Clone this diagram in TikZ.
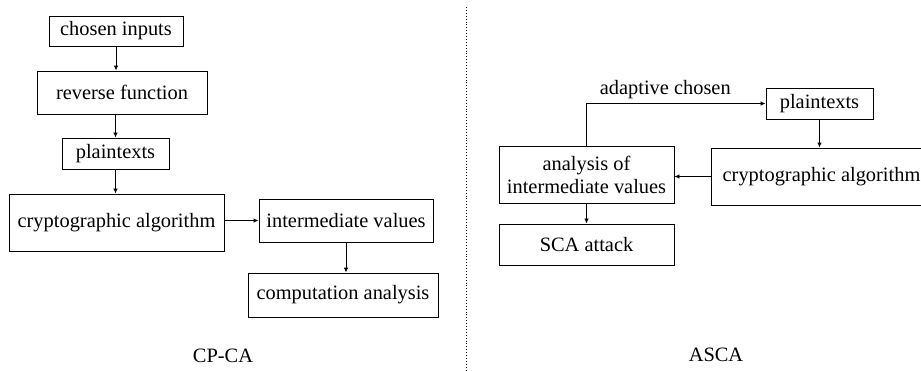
\documentclass[tikz,border=0pt]{standalone}
\usepackage{fontspec}
\setmainfont{Liberation Serif}
\usetikzlibrary{arrows.meta}
\begin{document}
\begin{tikzpicture}[x=1pt,y=-1pt,
  box/.style={draw, line width=0.9pt, inner sep=0pt, align=center,
    font=\fontsize{20.4}{23}\selectfont},
  lbl/.style={inner sep=0pt, font=\fontsize{20.4}{23}\selectfont},
  arr/.style={draw, line width=0.9pt, -{Latex[length=5pt,width=4.5pt]}}]
\useasboundingbox (0,0) rectangle (921,370);
% left
\node[box, minimum width=134pt, minimum height=30pt] (ci) at (116,31) {chosen inputs};
\node[box, minimum width=170pt, minimum height=43pt] (rf) at (122,92.5) {reverse function};
\node[box, minimum width=107pt, minimum height=31pt] (pt) at (115.5,153.5) {plaintexts};
\node[box, minimum width=215pt, minimum height=57pt] (ca) at (116.5,222.5) {cryptographic algorithm};
\node[box, minimum width=174pt, minimum height=43pt] (iv) at (346,220.5) {intermediate values};
\node[box, minimum width=190pt, minimum height=44pt] (cm) at (343,295) {computation analysis};
\node[lbl] (l1) at (223,356) {CP-CA};
\draw[arr] (ci.south) -- (ci.south |- rf.north);
\draw[arr] (pt.north |- rf.south) -- (pt.north);
\draw[arr] (pt.south) -- (pt.south |- ca.north);
\draw[arr] (ca.east |- iv.west) -- (iv.west);
\draw[arr] (iv.south) -- (iv.south |- cm.north);
% separator
\coordinate (s1) at (466,7);
\coordinate (s2) at (466,370);
\draw[dotted, line width=0.9pt] (s1) -- (s2);
% right
\node[box, minimum width=107pt, minimum height=31pt] (pt2) at (819.5,103.5) {plaintexts};
\node[box, minimum width=221pt, minimum height=57pt] (ca2) at (821.5,176.5) {cryptographic algorithm};
\node[box, minimum width=175pt, minimum height=57pt] (an) at (586.5,174.5) {analysis of\\intermediate values};
\node[box, minimum width=175pt, minimum height=41pt] (sca) at (586.5,244.5) {SCA attack};
\node[lbl] (l2) at (716,355) {ASCA};
\draw[arr] (an.north) |- node[lbl, pos=0.72, above=4pt] {adaptive chosen} (pt2.west);
\draw[arr] (pt2.south) -- (pt2.south |- ca2.north);
\draw[arr] (ca2.west) -- (ca2.west -| an.east);
\draw[arr] (an.south) -- (an.south |- sca.north);
\end{tikzpicture}
\end{document}
